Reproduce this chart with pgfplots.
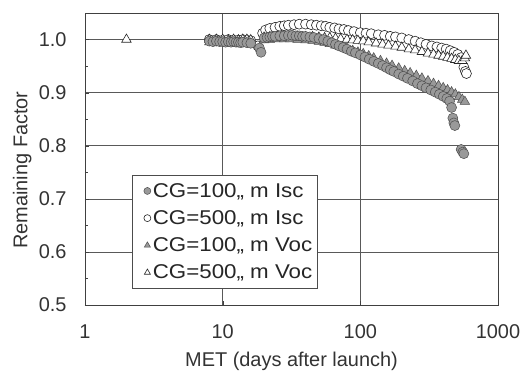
\documentclass[border=0pt]{standalone}
\usepackage{pgfplots}
\pgfplotsset{compat=1.18}
\usepackage{pgfplotstable}
\usepackage{fontspec}
\setmainfont{Liberation Sans}
\newfontfamily\legfont[FakeStretch=1.12]{Liberation Sans}
\pgfplotstableread{
x y
8 0.997
8.5 0.996
9 0.997
9.5 0.996
10 0.996
10.5 0.995
11 0.996
11.5 0.995
12 0.996
12.5 0.995
13 0.995
13.5 0.994
14 0.995
15 0.994
16 0.993
18.5 0.984
19 0.976
20 1.003
21 1.004
22 1.005
23 1.006
24 1.006
26 1.007
28 1.007
30 1.008
32 1.008
34 1.007
36 1.007
38 1.006
40 1.006
43 1.005
46 1.004
50 1.002
54 1.000
58 0.997
62 0.994
66 0.991
70 0.988
75 0.985
80 0.982
86 0.978
92 0.975
100 0.971
108 0.967
116 0.963
125 0.959
135 0.955
145 0.951
155 0.947
165 0.943
175 0.940
190 0.935
205 0.931
220 0.927
240 0.922
260 0.917
280 0.913
300 0.909
325 0.905
350 0.901
375 0.897
400 0.893
425 0.889
445 0.884
460 0.872
470 0.852
478 0.843
486 0.838
540 0.793
555 0.788
565 0.785
}\isccg
\pgfplotstableread{
x y
8 1.000
9 1.000
10 0.999
11 1.000
12 0.999
13 0.999
14 1.000
15 0.999
16 0.998
18 0.988
19.5 1.012
20.5 1.018
22 1.021
24 1.023
26 1.025
28 1.026
30 1.027
33 1.028
36 1.029
40 1.029
44 1.028
48 1.027
52 1.026
56 1.025
60 1.023
65 1.022
70 1.020
76 1.019
82 1.017
90 1.015
100 1.013
110 1.012
120 1.011
135 1.009
150 1.008
165 1.006
180 1.005
200 1.003
225 1.000
250 0.997
275 0.994
300 0.991
330 0.988
360 0.986
390 0.984
420 0.982
450 0.979
480 0.976
510 0.972
540 0.966
565 0.948
580 0.940
590 0.936
}\iscfive
\pgfplotstableread{
x y
8 0.995
9 0.995
10 0.994
11 0.995
12 0.994
13 0.994
14 0.993
15 0.994
16 0.993
20 0.999
22 1.000
25 1.001
28 1.001
31 1.001
35 1.000
40 0.999
45 0.998
50 0.996
55 0.994
60 0.992
66 0.989
72 0.986
80 0.983
88 0.979
96 0.976
105 0.973
115 0.969
125 0.965
140 0.960
155 0.955
170 0.951
190 0.946
210 0.941
230 0.937
255 0.932
280 0.927
310 0.922
340 0.917
370 0.913
400 0.909
430 0.905
460 0.901
490 0.897
520 0.892
550 0.887
575 0.883
}\voccg
\pgfplotstableread{
x y
2 1.000
8 1.000
9 1.000
10 1.000
11 0.999
12 1.000
13 0.999
14 1.000
15 1.000
16 0.999
20 1.004
22 1.005
25 1.006
28 1.006
31 1.006
35 1.006
40 1.005
45 1.005
50 1.004
55 1.003
60 1.003
66 1.002
72 1.001
80 1.000
88 0.999
96 0.998
105 0.997
115 0.995
130 0.993
145 0.991
160 0.989
180 0.987
200 0.985
225 0.982
250 0.980
280 0.977
310 0.974
340 0.972
370 0.970
400 0.968
430 0.966
460 0.964
490 0.962
520 0.960
550 0.960
575 0.965
585 0.970
}\vocfive
\begin{document}
\begin{tikzpicture}
\begin{axis}[
  name=ax,
  scale only axis,
  width=413bp, height=292bp,
  xmode=log, log basis x=10,
  xmin=1, xmax=1000, ymin=0.5, ymax=1.05,
  xtick={1,10,100,1000}, xticklabels={1,10,100,1000},
  ytick={0.5,0.6,0.7,0.8,0.9,1.0},
  minor y tick num=1,
  tick pos=left,
  tick align=inside,
  major tick length=4bp, minor tick length=3bp,
  yticklabel={\pgfmathprintnumber[fixed,fixed zerofill,precision=1]{\tick}},
  /pgf/number format/assume math mode=true,
  tick label style={font=\fontsize{20}{24}\selectfont, text=black!80},
  yticklabel style={xshift=-15bp},
  xticklabel style={yshift=-16bp},
  grid=major,
  major grid style={black!65, line width=0.6pt},
  axis line style={black!75, line width=0.9pt},
  tick style={black!75},
  xlabel={MET (days after launch)},
  ylabel={Remaining Factor},
  label style={font=\fontsize{20}{24}\selectfont, text=black!80},
  xlabel style={at={(axis description cs:0.5,-0.192)}, anchor=center},
  ylabel style={at={(axis description cs:-0.152,0.462)}, anchor=center},
]
\addplot[only marks, mark=*, mark size=5bp, mark options={fill=white, draw=black!85, line width=0.6pt}] table {\iscfive};
\addplot[only marks, mark=triangle*, mark size=5.5bp, mark options={fill=white, draw=black!85, line width=0.6pt}] table {\vocfive};
\addplot[only marks, mark=triangle*, mark size=5.5bp, mark options={fill=black!40, draw=black!70, line width=0.5pt}] table {\voccg};
\addplot[only marks, mark=*, mark size=5bp, mark options={fill=black!40, draw=black!70, line width=0.5pt}] table {\isccg};
\end{axis}
\begin{axis}[
  scale only axis, width=413bp, height=292bp, at={(ax.south west)},
  xmode=log, xmin=1, xmax=1000, ymin=0.5, ymax=1.05,
  hide axis,
  legend style={at={(axis description cs:0.114,0.445)}, anchor=north west,
    font=\legfont\fontsize{20}{24}\selectfont, text=black!85, draw=black!70,
    row sep=7.8bp, inner xsep=3bp, inner ysep=6bp},
  legend cell align=left,
  legend image code/.code={\path (0cm,0cm) (0.42cm,0cm); \draw[#1, mark size=3.5bp] plot coordinates {(0.42cm,0cm)};},
]
\addlegendimage{only marks, mark=*, mark options={fill=black!40, draw=black!70, line width=0.5pt}}
\addlegendentry{CG=100„ m Isc}
\addlegendimage{only marks, mark=*, mark options={fill=white, draw=black!85, line width=0.6pt}}
\addlegendentry{CG=500„ m Isc}
\addlegendimage{only marks, mark=triangle*, mark options={fill=black!40, draw=black!70, line width=0.5pt}}
\addlegendentry{CG=100„ m Voc}
\addlegendimage{only marks, mark=triangle*, mark options={fill=white, draw=black!85, line width=0.6pt}}
\addlegendentry{CG=500„ m Voc}
\end{axis}
\path (ax.south west) ++(-85bp,-69bp);
\path (ax.north east) ++(27bp,13bp);
\end{tikzpicture}
\end{document}
